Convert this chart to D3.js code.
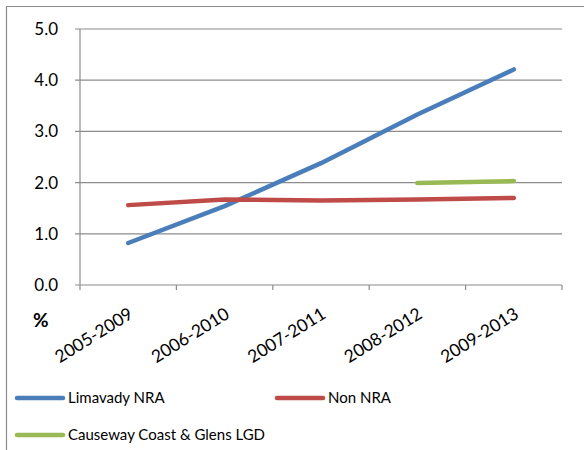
<!DOCTYPE html>
<html><head><meta charset="utf-8">
<script src="https://cdn.jsdelivr.net/npm/d3@7"></script>
<style>body{margin:0;background:#fff}svg{display:block}text{font-family:Lato,"Open Sans",sans-serif}</style>
</head><body><svg id="c" width="584" height="450"></svg>
<script>
const categories = ["2005-2009","2006-2010","2007-2011","2008-2012","2009-2013"];
const limavady = [0.82, 1.54, 2.38, 3.33, 4.21];
const nonNRA = [1.56, 1.67, 1.65, 1.67, 1.70];
const causeway = [null, null, null, 1.99, 2.03];
const yTicks = [0, 1, 2, 3, 4, 5];
const seriesNames = ["Limavady NRA","Non NRA","Causeway Coast & Glens LGD"];
const colors = ["#4a7ebb","#be4b48","#98b954"];

const svg = d3.select("#c");
// frame
svg.append("line").attr("x1",6).attr("x2",584).attr("y1",6.5).attr("y2",6.5).attr("stroke","#8c8c8c").attr("stroke-width",1.2);
svg.append("line").attr("x1",6.5).attr("x2",6.5).attr("y1",6).attr("y2",450).attr("stroke","#8c8c8c").attr("stroke-width",1.2);

const x0 = 80, x1 = 562;
const x = d3.scaleBand().domain(categories).range([x0, x1]);
const y = d3.scaleLinear().domain([0,5]).range([285, 29]);

// gridlines
svg.append("g").selectAll("line").data(yTicks).join("line")
  .attr("x1", x0-5).attr("x2", x1).attr("y1", d=>y(d)).attr("y2", d=>y(d))
  .attr("stroke","#8c8c8c").attr("stroke-width",1.2);
// y axis line
svg.append("line").attr("x1",x0).attr("x2",x0).attr("y1",y(5)).attr("y2",y(0)+5).attr("stroke","#8c8c8c").attr("stroke-width",1.2);
// x ticks at band boundaries
const bounds = categories.map(c=>x(c)).concat([x1]);
svg.append("g").selectAll("line").data(bounds.slice(1)).join("line")
  .attr("x1",d=>d).attr("x2",d=>d).attr("y1",y(0)).attr("y2",y(0)+5)
  .attr("stroke","#8c8c8c").attr("stroke-width",1.2);

// y labels
svg.append("g").selectAll("text").data(yTicks).join("text")
  .attr("x", 58).attr("y", d=>y(d)+6).attr("text-anchor","end")
  .attr("font-size",17).attr("fill","#000").text(d=>d3.format(".1f")(d));

// x labels
const cx = d=>x(d)+x.bandwidth()/2;
svg.append("g").selectAll("text").data(categories).join("text")
  .attr("transform", d=>`translate(${cx(d)+6},${317}) rotate(-32)`)
  .attr("text-anchor","end").attr("font-size",17.5).attr("fill","#000").text(d=>d);

// % label
svg.append("text").attr("x",33).attr("y",327).attr("font-size",19).attr("font-weight","bold").text("%");

// lines
const line = d3.line().defined(d=>d.v!=null).x(d=>cx(d.c)).y(d=>y(d.v));
[limavady, nonNRA, causeway].forEach((s,i)=>{
  svg.append("path").datum(categories.map((c,j)=>({c, v:s[j]})))
    .attr("d", line).attr("fill","none").attr("stroke",colors[i])
    .attr("stroke-width",4.5).attr("stroke-linecap","round").attr("stroke-linejoin","round");
});

// legend
const legPos = [[15,398],[275,398],[15,435]];
seriesNames.forEach((n,i)=>{
  const [lx,ly] = legPos[i];
  svg.append("line").attr("x1",lx+2).attr("x2",lx+48).attr("y1",ly).attr("y2",ly)
    .attr("stroke",colors[i]).attr("stroke-width",4.5).attr("stroke-linecap","round");
  svg.append("text").attr("x",lx+53).attr("y",ly+5).attr("font-size",15).attr("fill","#000").text(n);
});
</script></body></html>
